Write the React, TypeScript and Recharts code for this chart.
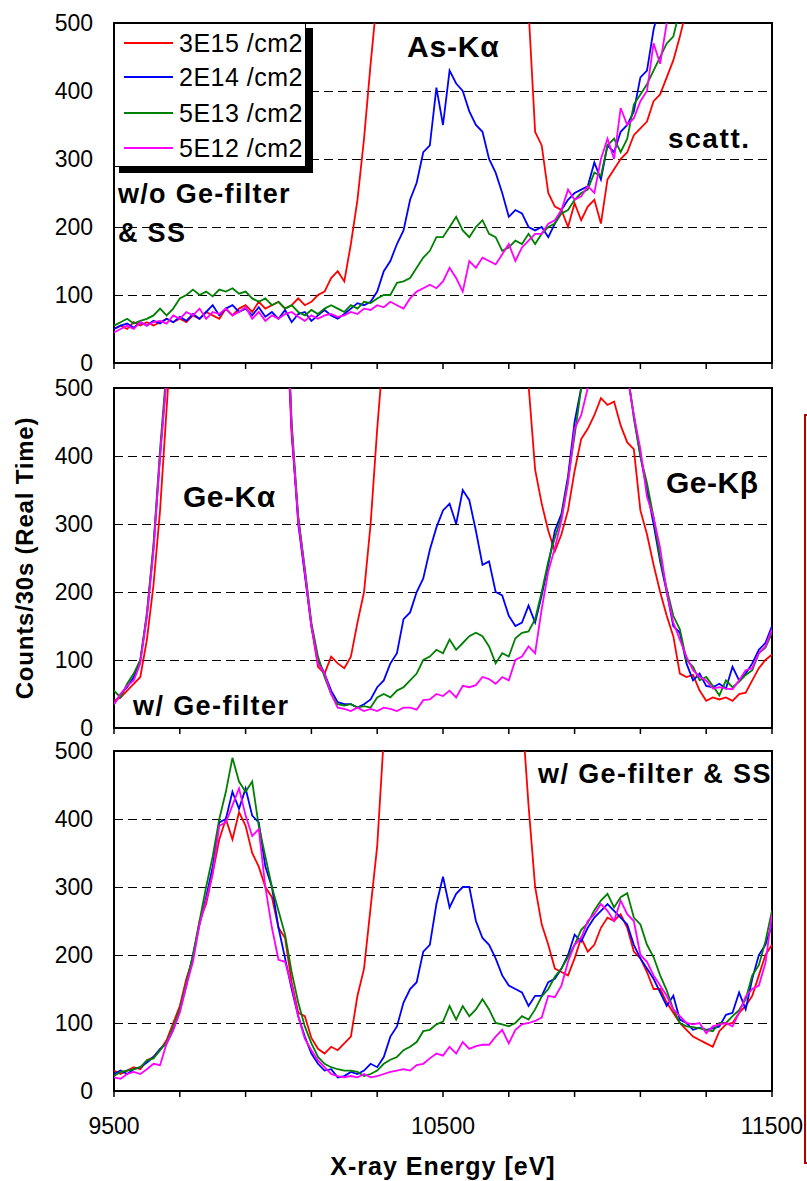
import { LineChart, Line, XAxis, YAxis, CartesianGrid, ReferenceArea } from "recharts";

const energy = [
  9500, 9520, 9540, 9560, 9580, 9600, 9620, 9640, 9660, 9680,
  9700, 9720, 9740, 9760, 9780, 9800, 9820, 9840, 9860, 9880,
  9900, 9920, 9940, 9960, 9980, 10000, 10020, 10040, 10060, 10080,
  10100, 10120, 10140, 10160, 10180, 10200, 10220, 10240, 10260, 10280,
  10300, 10320, 10340, 10360, 10380, 10400, 10420, 10440, 10460, 10480,
  10500, 10520, 10540, 10560, 10580, 10600, 10620, 10640, 10660, 10680,
  10700, 10720, 10740, 10760, 10780, 10800, 10820, 10840, 10860, 10880,
  10900, 10920, 10940, 10960, 10980, 11000, 11020, 11040, 11060, 11080,
  11100, 11120, 11140, 11160, 11180, 11200, 11220, 11240, 11260, 11280,
  11300, 11320, 11340, 11360, 11380, 11400, 11420, 11440, 11460, 11480, 11500,
];

const xTicks = [9500, 9700, 9900, 10100, 10300, 10500, 10700, 10900, 11100, 11300, 11500];
const xLabels = [9500, 10500, 11500];
const yTicks = [0, 100, 200, 300, 400, 500];

const seriesNames = ["3E15 /cm2", "2E14 /cm2", "5E13 /cm2", "5E12 /cm2"];
const seriesColors = ["#ff0000", "#0000ff", "#008000", "#ff00ff"];

// panel 1: w/o Ge-filter & SS
const noFilter3E15 = [
  50, 55, 50, 60, 55, 60, 55, 60, 65, 60,
  65, 60, 70, 65, 75, 70, 65, 80, 70, 80,
  85, 75, 90, 80, 85, 90, 80, 85, 95, 85,
  90, 100, 105, 125, 135, 120, 175, 240, 330, 440,
  540, 700, 900, 1200, 1500, 1900, 2300, 2600, 2800, 2900,
  2950, 2900, 2800, 2600, 2300, 2000, 1700, 1400, 1100, 900,
  750, 650, 580, 520, 340, 320, 250, 230, 225, 200,
  235, 210, 230, 240, 205, 270, 285, 300, 310, 335,
  345, 355, 385, 395, 420, 445, 480, 520, 560, 600,
  640, 680, 720, 760, 800, 840, 880, 920, 960, 1000, 1040,
];
const noFilter2E14 = [
  50, 55, 58, 52, 60, 55, 62, 58, 65, 60,
  68, 62, 72, 65, 75, 85, 70, 80, 85, 75,
  80, 70, 82, 68, 75, 65, 78, 60, 72, 75,
  62, 70, 78, 70, 65, 72, 80, 88, 85, 90,
  105, 135, 150, 175, 195, 240, 265, 310, 320, 405,
  350, 430, 411, 400, 370, 350, 340, 300, 280, 250,
  215, 225, 220, 200, 195, 200, 185, 205, 225, 240,
  250, 255, 260, 295, 270, 320, 310, 340, 350, 370,
  420, 430, 490, 530, 560, 590, 620, 650, 680, 710,
  740, 770, 800, 830, 860, 890, 920, 950, 980, 1010, 1040,
];
const noFilter5E13 = [
  55, 60, 65, 58, 62, 65, 70, 80, 70, 80,
  95, 100, 108, 100, 105, 98, 108, 105, 110, 102,
  105, 95, 90, 95, 85, 90, 80, 85, 75, 70,
  78, 72, 80, 85, 80, 75, 85, 80, 90, 88,
  95, 100, 100, 118, 120, 125, 140, 155, 165, 185,
  185, 200, 215, 195, 185, 200, 210, 190, 185, 165,
  170, 180, 175, 190, 175, 190, 200, 205, 220, 225,
  240, 250, 255, 280, 275, 320, 330, 310, 330, 380,
  395, 410, 430, 450, 470, 480, 520, 560, 600, 640,
  680, 720, 760, 800, 840, 880, 920, 960, 1000, 1040, 1080,
];
const noFilter5E12 = [
  45, 50, 55, 50, 60, 55, 60, 62, 58, 70,
  65, 75, 70, 80, 65, 75, 72, 80, 70, 75,
  82, 65, 75, 62, 70, 65, 72, 75, 68, 62,
  70, 65, 70, 72, 68, 70, 75, 72, 80, 78,
  85, 82, 90, 85, 80, 95, 105, 110, 115, 110,
  120, 140, 125, 105, 150, 140, 155, 150, 145, 160,
  175, 150, 170, 180, 190, 190, 205, 210, 225, 255,
  240, 245, 260, 250, 300, 330, 300, 375, 350, 360,
  385, 400, 470, 440, 500, 520, 550, 580, 610, 640,
  670, 700, 730, 760, 790, 820, 850, 880, 910, 940, 970,
];

// panel 2: w/ Ge-filter
const geFilter3E15 = [
  40, 45, 55, 65, 75, 130, 210, 320, 470, 620,
  850, 1100, 1400, 1700, 2000, 2300, 2500, 2600, 2650, 2600,
  2500, 2300, 2000, 1700, 1300, 950, 650, 430, 310, 230,
  150, 90, 80, 105, 95, 88, 105, 155, 200, 300,
  440, 560, 800, 1100, 1500, 1900, 2300, 2600, 2800, 2900,
  2950, 2900, 2800, 2600, 2300, 2000, 1700, 1400, 1100, 900,
  750, 650, 580, 505, 380, 330, 290, 260, 285, 320,
  378, 425, 440, 460, 485, 475, 480, 445, 420, 410,
  320, 285, 240, 200, 165, 135, 80, 75, 78, 55,
  40, 45, 42, 45, 40, 50, 52, 70, 88, 100, 108,
];
const geFilter2E14 = [
  35, 50, 60, 75, 100, 165, 265, 400, 520, 700,
  950, 1200, 1500, 1800, 2100, 2350, 2550, 2650, 2700, 2650,
  2550, 2350, 2050, 1750, 1350, 1000, 680, 440, 300, 225,
  150, 100, 80, 55, 38, 35, 35, 30, 35, 42,
  60, 70, 95, 110, 160, 170, 200, 220, 262, 295,
  320, 330, 300, 350, 335, 290, 240, 245, 200, 195,
  165, 150, 155, 180, 155, 195, 240, 290, 315, 370,
  450, 500, 540, 600, 650, 680, 660, 600, 520, 460,
  400, 350, 300, 245, 200, 150, 140, 95, 70, 80,
  62, 60, 65, 58, 90, 70, 80, 95, 115, 125, 150,
];
const geFilter5E13 = [
  55, 45, 65, 80, 100, 170, 270, 410, 530, 710,
  960, 1210, 1510, 1810, 2110, 2360, 2560, 2660, 2710, 2660,
  2560, 2360, 2060, 1760, 1360, 1010, 690, 450, 310, 235,
  155, 105, 75, 50, 35, 33, 35, 30, 32, 30,
  45, 50, 45, 55, 60, 70, 80, 100, 105, 115,
  110, 130, 115, 125, 135, 140, 135, 120, 95, 110,
  105, 132, 140, 142, 160, 200, 245, 280, 310, 365,
  430, 500, 550, 610, 660, 690, 670, 610, 530, 455,
  400, 360, 310, 250, 205, 165, 145, 100, 90, 70,
  75, 62, 48, 70, 60, 68, 78, 85, 110, 118, 140,
];
const geFilter5E12 = [
  35, 50, 62, 70, 95, 165, 260, 400, 515, 700,
  950, 1200, 1500, 1800, 2100, 2350, 2550, 2650, 2700, 2650,
  2550, 2350, 2050, 1750, 1350, 1000, 680, 440, 305, 230,
  150, 95, 80, 50, 30, 28, 25, 30, 25, 28,
  25, 30, 28, 25, 30, 30, 27, 41, 42, 50,
  47, 55, 45, 62, 60, 63, 75, 72, 65, 75,
  70, 100, 105, 120, 110, 175, 230, 265, 305, 360,
  440, 460, 500, 560, 620, 660, 640, 590, 520, 460,
  410, 340, 310, 265, 200, 155, 130, 105, 85, 75,
  70, 58, 60, 58, 57, 70, 85, 88, 110, 120, 145,
];

// panel 3: w/ Ge-filter & SS
const geFilterSS3E15 = [
  30, 25, 30, 35, 32, 45, 50, 60, 75, 100,
  125, 165, 195, 250, 275, 320, 370, 400, 370, 410,
  390, 350, 330, 300, 285, 240, 225, 160, 115, 110,
  78, 62, 55, 65, 60, 70, 80, 140, 180, 270,
  360, 520, 800, 1100, 1500, 1900, 2300, 2600, 2800, 2900,
  2950, 2900, 2800, 2600, 2300, 2000, 1700, 1400, 1100, 900,
  750, 650, 560, 420, 300, 245, 215, 180, 175, 170,
  195, 225, 205, 215, 240, 255, 250, 260, 240, 205,
  195, 175, 150, 150, 130, 115, 100, 90, 80, 75,
  70, 65, 88, 98, 100, 115, 125, 140, 170, 200, 215,
];
const geFilterSS2E14 = [
  25, 30, 25, 32, 35, 42, 50, 62, 70, 90,
  118, 155, 200, 245, 285, 330, 395, 400, 440, 415,
  445, 405, 395, 330, 300, 240, 195, 150, 110, 80,
  55, 40, 30, 32, 20, 22, 28, 25, 30, 40,
  35, 50, 80, 95, 130, 150, 160, 205, 215, 275,
  315, 270, 290, 300, 300, 250, 225, 215, 195, 170,
  155, 150, 145, 125, 140, 140, 160, 165, 180, 200,
  230, 220, 240, 255, 265, 275, 265, 255, 245, 215,
  195, 180, 165, 145, 125, 140, 105, 100, 90, 93,
  90, 92, 95, 112, 115, 145, 120, 165, 200, 215, 245,
];
const geFilterSS5E13 = [
  22, 28, 30, 32, 35, 45, 48, 60, 72, 95,
  120, 160, 200, 250, 300, 345, 400, 440, 490, 455,
  440, 455, 390, 345, 300, 265, 230, 175, 130, 95,
  70, 50, 40, 35, 32, 30, 30, 28, 22, 25,
  30, 40, 46, 50, 60, 65, 72, 88, 90, 98,
  102, 125, 105, 125, 110, 120, 135, 120, 100, 98,
  95, 100, 110, 105, 120, 139, 150, 168, 180, 197,
  215, 237, 247, 266, 280, 290, 270, 285, 291, 255,
  245, 215, 197, 170, 148, 120, 100, 95, 94, 92,
  90, 88, 100, 100, 110, 119, 135, 170, 185, 220, 265,
];
const geFilterSS5E12 = [
  20, 18, 25, 28, 25, 32, 40, 38, 70, 90,
  115, 155, 190, 245, 280, 320, 390, 395, 420, 445,
  405, 375, 385, 300, 240, 193, 190, 155, 110, 77,
  60, 45, 35, 25, 22, 20, 22, 20, 25, 20,
  22, 25, 28, 30, 32, 30, 38, 40, 48, 55,
  52, 65, 55, 72, 62, 66, 68, 68, 80, 90,
  70, 90, 98, 100, 103, 108, 140, 138, 155, 190,
  215, 225, 250, 260, 275, 265, 250, 280, 260, 250,
  200, 190, 170, 155, 140, 120, 110, 100, 98, 100,
  85, 95, 98, 100, 95, 115, 139, 150, 155, 188, 260,
];

const FONT = "'Liberation Sans', Arial, sans-serif";

const buildRows = (a: number[], b: number[], c: number[], d: number[]) =>
  energy.map((e, i) => ({ e, s0: a[i], s1: b[i], s2: c[i], s3: d[i] }));

const panels = [
  { top: 23, rows: buildRows(noFilter3E15, noFilter2E14, noFilter5E13, noFilter5E12), labels: false },
  { top: 388, rows: buildRows(geFilter3E15, geFilter2E14, geFilter5E13, geFilter5E12), labels: false },
  { top: 751, rows: buildRows(geFilterSS3E15, geFilterSS2E14, geFilterSS5E13, geFilterSS5E12), labels: true },
];

function Panel({ top, rows, labels }: { top: number; rows: any[]; labels: boolean }) {
  const mTop = 16;
  const axisH = labels ? 60 : 20;
  return (
    <div style={{ position: "absolute", left: 0, top: top - mTop }}>
      <LineChart
        width={807}
        height={mTop + 340 + axisH}
        data={rows}
        margin={{ top: mTop, right: 35, bottom: 0, left: 0 }}
      >
        <CartesianGrid
          vertical={false}
          stroke="#000"
          strokeDasharray="9 5"
          strokeWidth={1}
          shapeRendering="crispEdges"
        />
        <XAxis
          dataKey="e"
          type="number"
          domain={[9500, 11500]}
          ticks={xTicks}
          allowDataOverflow
          height={axisH}
          axisLine={false}
          tickLine={{ stroke: "#000", strokeWidth: 1.5 }}
          tickSize={6}
          tickMargin={21}
          tick={{ fontSize: 23, fill: "#000", fontFamily: FONT }}
          tickFormatter={(v: number) => (labels && xLabels.includes(v) ? String(v) : "")}
          interval={0}
        />
        <YAxis
          type="number"
          domain={[0, 500]}
          ticks={yTicks}
          allowDataOverflow
          width={114}
          axisLine={false}
          tickLine={false}
          tickSize={6}
          tickMargin={15}
          tick={{ fontSize: 23, fill: "#000", fontFamily: FONT }}
          interval={0}
        />
        {seriesColors.map((c, i) => (
          <Line
            key={i}
            dataKey={`s${i}`}
            name={seriesNames[i]}
            stroke={c}
            strokeWidth={1.8}
            dot={false}
            type="linear"
            isAnimationActive={false}
          />
        ))}
        <ReferenceArea x1={9500} x2={11500} y1={0} y2={500} fill="none" stroke="#000" strokeWidth={2} />
      </LineChart>
    </div>
  );
}

export default function App() {
  const legendY = [43, 77, 113, 148];
  const bold = { fontFamily: FONT, fontWeight: 700, fill: "#000" } as const;
  return (
    <div style={{ position: "absolute", left: 0, top: 0, width: 807, height: 1181, background: "#fff", fontFamily: FONT }}>
      {panels.map((p, i) => (
        <Panel key={i} top={p.top} rows={p.rows} labels={p.labels} />
      ))}
      <svg width={807} height={1181} style={{ position: "absolute", left: 0, top: 0, pointerEvents: "none" }}>
        {/* legend */}
        <rect x={119} y={28} width={194} height={145} fill="#000" />
        <rect x={114.5} y={23.5} width={191} height={143} fill="#fff" stroke="#000" strokeWidth={1} />
        {seriesNames.map((n, i) => (
          <g key={n}>
            <line x1={124} x2={173} y1={legendY[i]} y2={legendY[i]} stroke={seriesColors[i]} strokeWidth={2} />
            <text x={179} y={legendY[i] + 9} fontSize={25} letterSpacing={0.5} fontFamily={FONT} fill="#000">
              {n}
            </text>
          </g>
        ))}
        {/* annotations */}
        <text x={118} y={203} fontSize={27} letterSpacing={1.3} {...bold}>w/o Ge-filter</text>
        <text x={118} y={242} fontSize={27} letterSpacing={1.3} {...bold}>&amp; SS</text>
        <text x={407} y={57} fontSize={30} letterSpacing={0.8} {...bold}>As-Kα</text>
        <text x={668} y={148} fontSize={28} letterSpacing={1.6} {...bold}>scatt.</text>
        <text x={183} y={507} fontSize={30} letterSpacing={0.5} {...bold}>Ge-Kα</text>
        <text x={133} y={715} fontSize={27} letterSpacing={1.4} {...bold}>w/ Ge-filter</text>
        <text x={666} y={493} fontSize={30} letterSpacing={0.5} {...bold}>Ge-Kβ</text>
        <text x={538} y={783} fontSize={27} letterSpacing={1.4} {...bold}>w/ Ge-filter &amp; SS</text>
        <text transform="translate(33,558) rotate(-90)" textAnchor="middle" fontSize={24} letterSpacing={0.8} {...bold}>
          Counts/30s (Real Time)
        </text>
        <text x={443} y={1175} textAnchor="middle" fontSize={25} letterSpacing={1} {...bold}>
          X-ray Energy [eV]
        </text>
        {/* clipped side box */}
        <rect x={805} y={415} width={20} height={748} fill="#ffffe6" stroke="#b00000" strokeWidth={2} />
      </svg>
    </div>
  );
}
